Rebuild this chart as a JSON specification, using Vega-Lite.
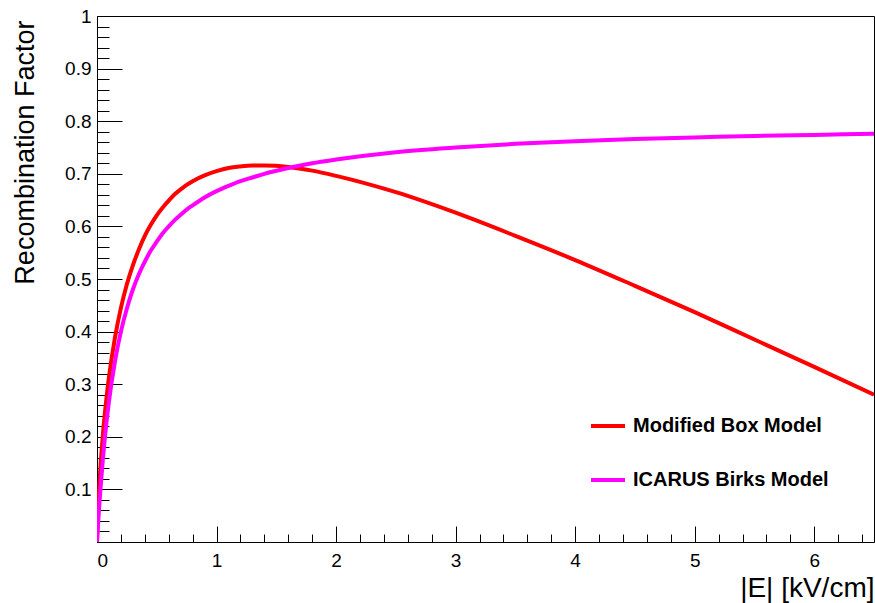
{
  "$schema": "https://vega.github.io/schema/vega-lite/v6.json",
  "width": 777,
  "height": 526,
  "autosize": {"type": "none"},
  "padding": {"left": 97, "top": 16, "right": 1, "bottom": 61},
  "background": "white",
  "config": {
    "view": {"stroke": "#000", "strokeWidth": 1},
    "font": "Liberation Sans",
    "axis": {"grid": false, "domainColor": "#000", "tickColor": "#000", "labelColor": "#000", "titleColor": "#000", "labelFont": "Liberation Sans", "titleFont": "Liberation Sans", "titleFontWeight": "normal"}
  },
  "data": {
    "values": [
      {"E": 0, "R": 0, "model": "Modified Box Model"},
      {"E": 0.005, "R": 0.038, "model": "Modified Box Model"},
      {"E": 0.01, "R": 0.066, "model": "Modified Box Model"},
      {"E": 0.02, "R": 0.110, "model": "Modified Box Model"},
      {"E": 0.03, "R": 0.146, "model": "Modified Box Model"},
      {"E": 0.05, "R": 0.206, "model": "Modified Box Model"},
      {"E": 0.075, "R": 0.265, "model": "Modified Box Model"},
      {"E": 0.1, "R": 0.313, "model": "Modified Box Model"},
      {"E": 0.15, "R": 0.388, "model": "Modified Box Model"},
      {"E": 0.2, "R": 0.445, "model": "Modified Box Model"},
      {"E": 0.25, "R": 0.490, "model": "Modified Box Model"},
      {"E": 0.3, "R": 0.526, "model": "Modified Box Model"},
      {"E": 0.35, "R": 0.556, "model": "Modified Box Model"},
      {"E": 0.4, "R": 0.582, "model": "Modified Box Model"},
      {"E": 0.45, "R": 0.603, "model": "Modified Box Model"},
      {"E": 0.5, "R": 0.621, "model": "Modified Box Model"},
      {"E": 0.55, "R": 0.636, "model": "Modified Box Model"},
      {"E": 0.6, "R": 0.649, "model": "Modified Box Model"},
      {"E": 0.65, "R": 0.661, "model": "Modified Box Model"},
      {"E": 0.7, "R": 0.6705, "model": "Modified Box Model"},
      {"E": 0.75, "R": 0.679, "model": "Modified Box Model"},
      {"E": 0.8, "R": 0.686, "model": "Modified Box Model"},
      {"E": 0.9, "R": 0.697, "model": "Modified Box Model"},
      {"E": 1.0, "R": 0.705, "model": "Modified Box Model"},
      {"E": 1.1, "R": 0.711, "model": "Modified Box Model"},
      {"E": 1.2, "R": 0.714, "model": "Modified Box Model"},
      {"E": 1.3, "R": 0.7157, "model": "Modified Box Model"},
      {"E": 1.4, "R": 0.7158, "model": "Modified Box Model"},
      {"E": 1.6, "R": 0.713, "model": "Modified Box Model"},
      {"E": 1.8, "R": 0.706, "model": "Modified Box Model"},
      {"E": 2.0, "R": 0.696, "model": "Modified Box Model"},
      {"E": 2.5, "R": 0.665, "model": "Modified Box Model"},
      {"E": 3.0, "R": 0.626, "model": "Modified Box Model"},
      {"E": 3.5, "R": 0.582, "model": "Modified Box Model"},
      {"E": 4.0, "R": 0.536, "model": "Modified Box Model"},
      {"E": 4.5, "R": 0.487, "model": "Modified Box Model"},
      {"E": 5.0, "R": 0.437, "model": "Modified Box Model"},
      {"E": 5.5, "R": 0.385, "model": "Modified Box Model"},
      {"E": 6.0, "R": 0.333, "model": "Modified Box Model"},
      {"E": 6.5, "R": 0.280, "model": "Modified Box Model"},
      {"E": 0, "R": 0, "model": "ICARUS Birks Model"},
      {"E": 0.005, "R": 0.020, "model": "ICARUS Birks Model"},
      {"E": 0.01, "R": 0.038, "model": "ICARUS Birks Model"},
      {"E": 0.02, "R": 0.073, "model": "ICARUS Birks Model"},
      {"E": 0.03, "R": 0.104, "model": "ICARUS Birks Model"},
      {"E": 0.05, "R": 0.160, "model": "ICARUS Birks Model"},
      {"E": 0.075, "R": 0.218, "model": "ICARUS Birks Model"},
      {"E": 0.1, "R": 0.267, "model": "ICARUS Birks Model"},
      {"E": 0.15, "R": 0.343, "model": "ICARUS Birks Model"},
      {"E": 0.2, "R": 0.400, "model": "ICARUS Birks Model"},
      {"E": 0.25, "R": 0.444, "model": "ICARUS Birks Model"},
      {"E": 0.3, "R": 0.480, "model": "ICARUS Birks Model"},
      {"E": 0.35, "R": 0.509, "model": "ICARUS Birks Model"},
      {"E": 0.4, "R": 0.533, "model": "ICARUS Birks Model"},
      {"E": 0.45, "R": 0.554, "model": "ICARUS Birks Model"},
      {"E": 0.5, "R": 0.571, "model": "ICARUS Birks Model"},
      {"E": 0.55, "R": 0.587, "model": "ICARUS Birks Model"},
      {"E": 0.6, "R": 0.600, "model": "ICARUS Birks Model"},
      {"E": 0.65, "R": 0.612, "model": "ICARUS Birks Model"},
      {"E": 0.7, "R": 0.622, "model": "ICARUS Birks Model"},
      {"E": 0.75, "R": 0.632, "model": "ICARUS Birks Model"},
      {"E": 0.8, "R": 0.640, "model": "ICARUS Birks Model"},
      {"E": 0.9, "R": 0.655, "model": "ICARUS Birks Model"},
      {"E": 1.0, "R": 0.667, "model": "ICARUS Birks Model"},
      {"E": 1.1, "R": 0.677, "model": "ICARUS Birks Model"},
      {"E": 1.2, "R": 0.686, "model": "ICARUS Birks Model"},
      {"E": 1.3, "R": 0.693, "model": "ICARUS Birks Model"},
      {"E": 1.4, "R": 0.700, "model": "ICARUS Birks Model"},
      {"E": 1.6, "R": 0.711, "model": "ICARUS Birks Model"},
      {"E": 1.8, "R": 0.720, "model": "ICARUS Birks Model"},
      {"E": 2.0, "R": 0.727, "model": "ICARUS Birks Model"},
      {"E": 2.5, "R": 0.741, "model": "ICARUS Birks Model"},
      {"E": 3.0, "R": 0.750, "model": "ICARUS Birks Model"},
      {"E": 3.5, "R": 0.757, "model": "ICARUS Birks Model"},
      {"E": 4.0, "R": 0.762, "model": "ICARUS Birks Model"},
      {"E": 4.5, "R": 0.766, "model": "ICARUS Birks Model"},
      {"E": 5.0, "R": 0.769, "model": "ICARUS Birks Model"},
      {"E": 5.5, "R": 0.772, "model": "ICARUS Birks Model"},
      {"E": 6.0, "R": 0.774, "model": "ICARUS Birks Model"},
      {"E": 6.5, "R": 0.776, "model": "ICARUS Birks Model"}
    ]
  },
  "layer": [
    {
      "mark": {"type": "line", "opacity": 0},
      "encoding": {
        "x": {"field": "E", "type": "quantitative", "scale": {"domain": [0, 6.5], "nice": false, "zero": false},
          "axis": {"orient": "bottom", "values": [0.2, 0.4, 0.6, 0.8, 1.2, 1.4, 1.6, 1.8, 2.2, 2.4, 2.6, 2.8, 3.2, 3.4, 3.6, 3.8, 4.2, 4.4, 4.6, 4.8, 5.2, 5.4, 5.6, 5.8, 6.2, 6.4], "labels": false, "title": null, "tickSize": -8, "domain": false}},
        "y": {"field": "R", "type": "quantitative", "scale": {"domain": [0, 1], "nice": false},
          "axis": {"orient": "left", "values": [0.02, 0.04, 0.06, 0.08, 0.12, 0.14, 0.16, 0.18, 0.22, 0.24, 0.26, 0.28, 0.32, 0.34, 0.36, 0.38, 0.42, 0.44, 0.46, 0.48, 0.52, 0.54, 0.56, 0.58, 0.62, 0.64, 0.66, 0.68, 0.72, 0.74, 0.76, 0.78, 0.82, 0.84, 0.86, 0.88, 0.92, 0.94, 0.96, 0.98], "labels": false, "title": null, "tickSize": -12, "domain": false}},
        "detail": {"field": "model", "type": "nominal"}
      }
    },
    {
      "mark": {"type": "line", "strokeWidth": 4, "interpolate": "monotone", "clip": true},
      "encoding": {
        "x": {"field": "E", "type": "quantitative", "scale": {"domain": [0, 6.5], "nice": false, "zero": false},
          "axis": {"orient": "bottom", "values": [0, 1, 2, 3, 4, 5, 6], "format": "~g", "tickSize": -16, "labelPadding": 25, "labelFontSize": 19, "title": "|E| [kV/cm]", "titleFontSize": 28, "titleX": 777, "titleY": 54, "titleAlign": "right", "titleBaseline": "alphabetic", "titleAnchor": "end"}},
        "y": {"field": "R", "type": "quantitative", "scale": {"domain": [0, 1], "nice": false},
          "axis": {"orient": "left", "values": [0.1, 0.2, 0.3, 0.4, 0.5, 0.6, 0.7, 0.8, 0.9, 1], "format": "~g", "tickSize": -25, "labelPadding": 31, "labelFontSize": 19, "title": "Recombination Factor", "titleFontSize": 27, "titleAngle": 270, "titleX": -64, "titleY": 4, "titleAlign": "right", "titleBaseline": "alphabetic", "titleAnchor": "end"}},
        "color": {"field": "model", "type": "nominal", "sort": ["Modified Box Model", "ICARUS Birks Model"],
          "scale": {"domain": ["Modified Box Model", "ICARUS Birks Model"], "range": ["#ff0000", "#ff00ff"]},
          "legend": {"orient": "none", "legendX": 492, "legendY": 391, "title": null, "symbolType": "stroke", "symbolSize": 1156, "symbolStrokeWidth": 4, "labelFontSize": 20, "labelFontWeight": "bold", "labelColor": "#000", "labelFont": "Liberation Sans", "labelOffset": 6, "rowPadding": 25, "padding": 0, "labelLimit": 400}}
      }
    }
  ],
  "resolve": {"axis": {"x": "independent", "y": "independent"}}
}
